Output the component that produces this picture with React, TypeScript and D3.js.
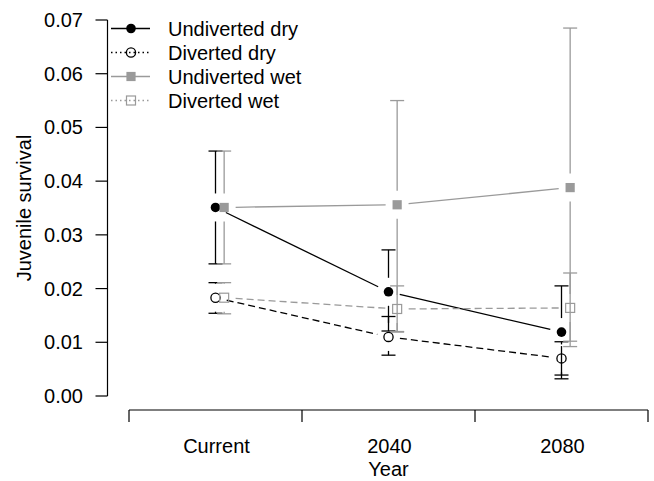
import * as d3 from 'd3'

// Values
const categories = ['Current', '2040', '2080']
const yTicks = [0, 0.01, 0.02, 0.03, 0.04, 0.05, 0.06, 0.07]

const undivDry = [0.0351, 0.0194, 0.0119]
const undivDryLo = [0.0246, 0.0121, 0.0032]
const undivDryHi = [0.0456, 0.0272, 0.0205]

const divDry = [0.0183, 0.011, 0.007]
const divDryLo = [0.0154, 0.0076, 0.0039]
const divDryHi = [0.0211, 0.0148, 0.0101]

const undivWet = [0.0351, 0.0356, 0.0388]
const undivWetLo = [0.0246, 0.012, 0.0092]
const undivWetHi = [0.0456, 0.055, 0.0685]

const divWet = [0.0183, 0.0162, 0.0164]
const divWetLo = [0.0153, 0.0119, 0.0102]
const divWetHi = [0.0211, 0.0205, 0.0229]

const W = 654
const H = 481
const GREY = '#9a9a9a'
const FONT = 'Liberation Sans, Arial, Helvetica, sans-serif'
const FS = 20

const x = d3.scaleLinear().domain([0.5, 3.5]).range([129, 648])
const y = d3.scaleLinear().domain([0, 0.07]).range([396, 20])

const LINE_GAP = 11.5 // type="b" gap around points
const BAR_GAP = 14 // error bars stop short of the point
const CAP = 7

type Series = {
  name: string
  mean: number[]
  lo: number[]
  hi: number[]
  color: string
  dash: string | null
  legendDash: string | null
  shape: 'dot' | 'circle' | 'square' | 'openSquare'
  offset: number
}

const series: Series[] = [
  { name: 'Undiverted dry', mean: undivDry, lo: undivDryLo, hi: undivDryHi, color: '#000', dash: null, legendDash: null, shape: 'dot', offset: 0 },
  { name: 'Diverted dry', mean: divDry, lo: divDryLo, hi: divDryHi, color: '#000', dash: '7,4', legendDash: '1.5,3', shape: 'circle', offset: 0 },
  { name: 'Undiverted wet', mean: undivWet, lo: undivWetLo, hi: undivWetHi, color: GREY, dash: null, legendDash: null, shape: 'square', offset: 0.05 },
  { name: 'Diverted wet', mean: divWet, lo: divWetLo, hi: divWetHi, color: GREY, dash: '7,4', legendDash: '1.5,3', shape: 'openSquare', offset: 0.05 },
]

function Marker({ cx, cy, shape, color }: { cx: number; cy: number; shape: Series['shape']; color: string }) {
  if (shape === 'dot') return <circle cx={cx} cy={cy} r={4.8} fill={color} />
  if (shape === 'circle') return <circle cx={cx} cy={cy} r={4.6} fill="none" stroke={color} strokeWidth={1.3} />
  if (shape === 'square') return <rect x={cx - 4.6} y={cy - 4.6} width={9.2} height={9.2} fill={color} />
  return <rect x={cx - 4.5} y={cy - 4.5} width={9} height={9} fill="none" stroke={color} strokeWidth={1.2} />
}

function ErrorBar({ cx, cy, lo, hi, color }: { cx: number; cy: number; lo: number; hi: number; color: string }) {
  const yHi = y(hi)
  const yLo = y(lo)
  return (
    <g stroke={color} strokeWidth={1.3}>
      {yHi < cy - BAR_GAP && <line x1={cx} x2={cx} y1={yHi} y2={cy - BAR_GAP} />}
      {yLo > cy + BAR_GAP && <line x1={cx} x2={cx} y1={cy + BAR_GAP} y2={yLo} />}
      <line x1={cx - CAP} x2={cx + CAP} y1={yHi} y2={yHi} />
      <line x1={cx - CAP} x2={cx + CAP} y1={yLo} y2={yLo} />
    </g>
  )
}

function Connectors({ s }: { s: Series }) {
  const pts = s.mean.map((v, i) => [x(i + 1 + s.offset), y(v)] as [number, number])
  return (
    <g stroke={s.color} strokeWidth={1.3} strokeDasharray={s.dash ?? undefined}>
      {d3.pairs(pts).map(([a, b], i) => {
        const dx = b[0] - a[0]
        const dy = b[1] - a[1]
        const len = Math.hypot(dx, dy)
        const ux = dx / len
        const uy = dy / len
        return (
          <line
            key={i}
            x1={a[0] + ux * LINE_GAP}
            y1={a[1] + uy * LINE_GAP}
            x2={b[0] - ux * LINE_GAP}
            y2={b[1] - uy * LINE_GAP}
          />
        )
      })}
    </g>
  )
}

export default function App() {
  const xTicks = d3.range(0.5, 3.6, 1)
  return (
    <svg
      width={W}
      height={H}
      style={{ position: 'absolute', left: 0, top: 0, background: '#fff' }}
      fontFamily={FONT}
    >
      <rect width={W} height={H} fill="#fff" />

      {/* y axis */}
      <line x1={107.5} x2={107.5} y1={y(0)} y2={y(0.07)} stroke="#000" strokeWidth={1.2} />
      {yTicks.map((t) => (
        <g key={t}>
          <line x1={95.5} x2={107.5} y1={y(t)} y2={y(t)} stroke="#000" strokeWidth={1.2} />
          <text x={83} y={y(t) + 7} textAnchor="end" fontSize={FS}>
            {t.toFixed(2)}
          </text>
        </g>
      ))}
      <text transform={`translate(31,${(y(0) + y(0.07)) / 2}) rotate(-90)`} textAnchor="middle" fontSize={FS}>
        Juvenile survival
      </text>

      {/* x axis */}
      <line x1={x(0.5)} x2={x(3.5)} y1={410} y2={410} stroke="#000" strokeWidth={1.2} />
      {xTicks.map((t) => (
        <line key={t} x1={x(t)} x2={x(t)} y1={410} y2={422} stroke="#000" strokeWidth={1.2} />
      ))}
      {categories.map((c, i) => (
        <text key={c} x={x(i + 1) + 1} y={453} textAnchor="middle" fontSize={FS}>
          {c}
        </text>
      ))}
      <text x={x(2)} y={476} textAnchor="middle" fontSize={FS}>
        Year
      </text>

      {/* error bars */}
      {series.map((s) =>
        s.mean.map((v, i) => (
          <ErrorBar key={s.name + i} cx={x(i + 1 + s.offset)} cy={y(v)} lo={s.lo[i]} hi={s.hi[i]} color={s.color} />
        ))
      )}

      {/* lines */}
      {series.map((s) => (
        <Connectors key={s.name} s={s} />
      ))}

      {/* points */}
      {series.map((s) =>
        s.mean.map((v, i) => (
          <Marker key={s.name + i} cx={x(i + 1 + s.offset)} cy={y(v)} shape={s.shape} color={s.color} />
        ))
      )}

      {/* legend */}
      {series.map((s, i) => {
        const ly = 28.5 + i * 24
        return (
          <g key={s.name}>
            <line
              x1={111}
              x2={150}
              y1={ly}
              y2={ly}
              stroke={s.color}
              strokeWidth={1.3}
              strokeDasharray={s.legendDash ?? undefined}
            />
            <Marker cx={131} cy={ly} shape={s.shape} color={s.color} />
            <text x={168} y={ly + 7} fontSize={FS}>
              {s.name}
            </text>
          </g>
        )
      })}
    </svg>
  )
}
